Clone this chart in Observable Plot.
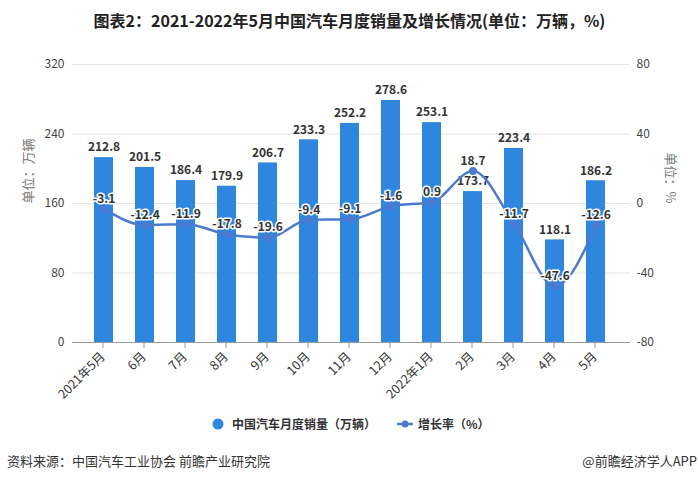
<!DOCTYPE html>
<html>
<head>
<meta charset="utf-8">
<script src="https://cdn.jsdelivr.net/npm/d3@7"></script>
<script src="https://cdn.jsdelivr.net/npm/@observablehq/plot@0.6"></script>
<style>
  html, body { margin: 0; padding: 0; background: #fff; }
  body { width: 699px; height: 481px; position: relative; overflow: hidden; font-family: "Noto Sans CJK SC", "Noto Sans", sans-serif; }
  #title { position: absolute; top: 8px; left: 0; width: 699px; text-align: center; font-size: 16px; font-weight: bold; color: #222; line-height: 24px; }
  #chart { position: absolute; top: 40px; left: 0; }
  #legend { position: absolute; top: 414px; left: 0; width: 699px; height: 20px; font-size: 12px; font-weight: bold; color: #333; }
  .lg { position: absolute; top: 0; line-height: 20px; display: flex; align-items: center; }
  .footer { position: absolute; top: 451px; font-size: 13px; color: #333; line-height: 20px; }
</style>
</head>
<body>
<div id="title">图表2：2021-2022年5月中国汽车月度销量及增长情况(单位：万辆，%)</div>
<div id="chart"></div>
<div id="legend">
  <div class="lg" style="left:212px;"><svg width="14" height="14" style="margin-right:6px"><circle cx="6" cy="7" r="5.5" fill="#2e86de"/></svg>中国汽车月度销量（万辆）</div>
  <div class="lg" style="left:396px;"><svg width="18" height="14" style="margin-right:4px"><line x1="1" y1="7" x2="17" y2="7" stroke="#4a7bd0" stroke-width="2.5"/><circle cx="9" cy="7" r="3.5" fill="#4a7bd0"/></svg>增长率（%）</div>
</div>
<div class="footer" style="left:7px;">资料来源：中国汽车工业协会 前瞻产业研究院</div>
<div class="footer" style="right:2px;">@前瞻经济学人APP</div>
<script>
const months = ["2021年5月","6月","7月","8月","9月","10月","11月","12月","2022年1月","2月","3月","4月","5月"];
const sales = [212.8,201.5,186.4,179.9,206.7,233.3,252.2,278.6,253.1,173.7,223.4,118.1,186.2];
const growth = [-3.1,-12.4,-11.9,-17.8,-19.6,-9.4,-9.1,-1.6,0.9,18.7,-11.7,-47.6,-12.6];
const leftTicks = [0,80,160,240,320];
const rightTicks = [-80,-40,0,40,80];

const data = months.map((m, i) => ({month: m, sales: sales[i], growth: growth[i]}));
// map growth (-80..80) onto the sales axis (0..320)
const g2y = g => (g + 80) * 2;
const y2g = y => y / 2 - 80;

const barColor = "#2e86de";
const lineColor = "#4a7bd0";

const chart = Plot.plot({
  width: 699,
  height: 372,
  marginTop: 24,
  marginBottom: 70,
  marginLeft: 72,
  marginRight: 69,
  style: {fontFamily: '"Noto Sans CJK SC", "Noto Sans", sans-serif', background: "transparent", overflow: "visible"},
  x: {type: "band", domain: months, range: [79.5, 618.5], paddingInner: 0.54, paddingOuter: 0.27},
  y: {domain: [0, 320]},
  marks: [
    Plot.gridY(leftTicks.filter(d => d > 0), {stroke: "#e3e3e3", strokeOpacity: 1}),
    Plot.axisY(leftTicks, {anchor: "left", tickSize: 0, tickPadding: 8, label: null, fontSize: 12, fill: "#444"}),
    Plot.axisY(rightTicks.map(g2y), {anchor: "right", tickSize: 0, tickPadding: 6, label: null, fontSize: 12, fill: "#444", tickFormat: d => String(y2g(d))}),
    Plot.text(["单位：万辆"], {frameAnchor: "left", dx: -44, rotate: -90, fontSize: 13, fill: "#777"}),
    Plot.text(["单位：%"], {frameAnchor: "right", dx: 40, rotate: 90, fontSize: 13, fill: "#777"}),
    Plot.barY(data, {x: "month", y: "sales", fill: barColor}),
    Plot.ruleY([0], {stroke: "#999"}),
    Plot.axisX({tickRotate: -45, tickSize: 6, tickPadding: 6, stroke: "#999", label: null, fontSize: 12.5, fill: "#333", dx: -1}),
    Plot.text(data, {x: "month", y: "sales", text: d => d.sales.toFixed(1), dy: -10, fontSize: 12, fontWeight: "bold", fill: "#333"}),
    Plot.line(data, {x: "month", y: d => g2y(d.growth), stroke: lineColor, strokeWidth: 2.5, curve: "monotone-x"}),
    Plot.dot(data, {x: "month", y: d => g2y(d.growth), r: 4, fill: lineColor}),
    Plot.text(data, {x: "month", y: d => g2y(d.growth), text: d => d.growth.toFixed(1), dy: -10, fontSize: 12, fontWeight: "bold", fill: "#333", stroke: "white", strokeWidth: 3, paintOrder: "stroke"})
  ]
});
document.getElementById("chart").appendChild(chart);
</script>
</body>
</html>
